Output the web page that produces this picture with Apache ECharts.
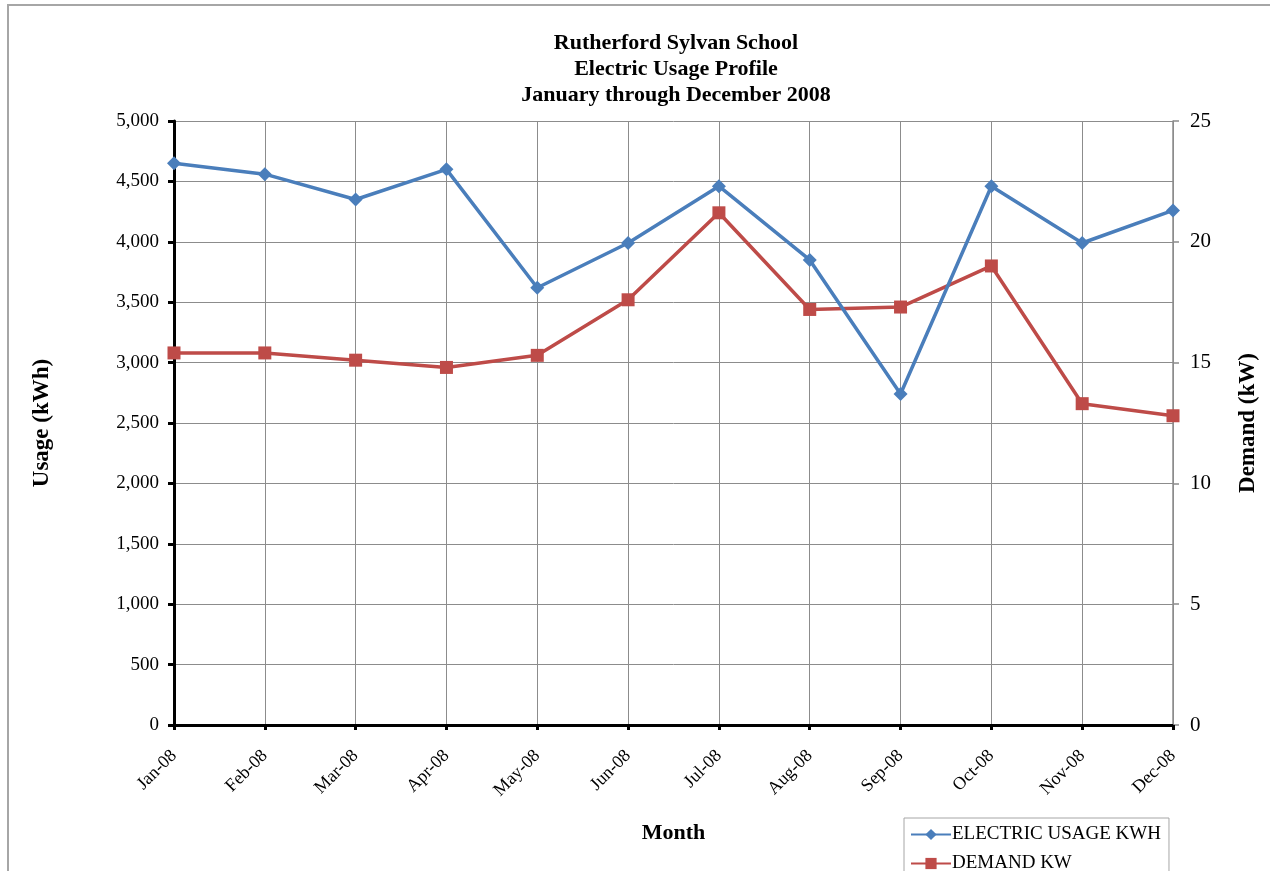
<!DOCTYPE html>
<html>
<head>
<meta charset="utf-8">
<script src="https://cdn.jsdelivr.net/npm/echarts@6/dist/echarts.min.js"></script>
<style>
  html, body { margin: 0; padding: 0; background: #fff; }
  .frame {
    position: absolute;
    left: 7px;
    top: 4px;
    width: 1300px;
    height: 900px;
    border-left: 2px solid #a6a6a6;
    border-top: 2px solid #a6a6a6;
  }
  #chart { position: absolute; left: 0; top: 0; width: 1270px; height: 871px; }
</style>
</head>
<body>
<div class="frame"></div>
<div id="chart"></div>
<script>
const months = ['Jan-08', 'Feb-08', 'Mar-08', 'Apr-08', 'May-08', 'Jun-08',
  'Jul-08', 'Aug-08', 'Sep-08', 'Oct-08', 'Nov-08', 'Dec-08']
const usageKwh = [4650, 4560, 4350, 4600, 3620, 3990, 4460, 3850, 2740, 4460, 3990, 4260]
const demandKw = [15.4, 15.4, 15.1, 14.8, 15.3, 17.6, 21.2, 17.2, 17.3, 19.0, 13.3, 12.8]

const serif = '"Liberation Serif", "DejaVu Serif", serif'
const gridColor = '#8c8c8c'

const chart = echarts.init(document.getElementById('chart'))

const option = {
  backgroundColor: 'transparent',
  animation: false,
  textStyle: { fontFamily: serif, color: '#000' },
  title: {
    text: 'Rutherford Sylvan School\nElectric Usage Profile\nJanuary through December 2008',
    left: 671,
    top: 25,
    textAlign: 'center',
    textStyle: {
      fontFamily: serif,
      fontSize: 22,
      fontWeight: 'bold',
      lineHeight: 26,
      color: '#000',
    },
  },
  grid: {
    left: 174,
    right: 97,
    top: 121,
    bottom: 146,
  },
  legend: {
    orient: 'horizontal',
    left: 904,
    top: 818,
    width: 250,
    padding: [7, 8, 6, 6],
    itemGap: 10,
    itemWidth: 40,
    itemHeight: 14,
    borderColor: '#a6a6a6',
    borderWidth: 1,
    backgroundColor: '#fff',
    textStyle: { fontFamily: serif, fontSize: 19, color: '#000', padding: [0, 0, 0, -4] },
    data: ['ELECTRIC USAGE KWH', 'DEMAND KW'],
  },
  xAxis: {
    type: 'category',
    data: months,
    boundaryGap: false,
    name: 'Month',
    nameLocation: 'middle',
    nameGap: 97,
    nameTextStyle: { fontFamily: serif, fontSize: 22, fontWeight: 'bold', color: '#000' },
    axisLine: { lineStyle: { color: '#000', width: 3 } },
    axisTick: { show: true, length: 5, lineStyle: { color: '#000', width: 3 } },
    axisLabel: {
      rotate: 45,
      margin: 28,
      fontFamily: serif,
      fontSize: 18,
      color: '#000',
      interval: 0,
    },
    splitLine: { show: true, lineStyle: { color: gridColor, width: 1 } },
  },
  yAxis: [
    {
      type: 'value',
      min: 0,
      max: 5000,
      interval: 500,
      name: 'Usage (kWh)',
      nameLocation: 'middle',
      nameRotate: 90,
      nameGap: 120,
      nameTextStyle: { fontFamily: serif, fontSize: 23, fontWeight: 'bold', color: '#000' },
      axisLine: { show: true, lineStyle: { color: '#000', width: 3 } },
      axisTick: { show: true, length: 6, lineStyle: { color: '#000', width: 3 } },
      axisLabel: {
        margin: 15,
        fontFamily: serif,
        fontSize: 19,
        color: '#000',
        formatter: v => v.toLocaleString('en-US'),
      },
      splitLine: { show: true, lineStyle: { color: gridColor, width: 1 } },
    },
    {
      type: 'value',
      min: 0,
      max: 25,
      interval: 5,
      name: 'Demand (kW)',
      nameLocation: 'middle',
      nameRotate: 90,
      nameGap: 64,
      nameTextStyle: { fontFamily: serif, fontSize: 23, fontWeight: 'bold', color: '#000' },
      axisLine: { show: true, lineStyle: { color: gridColor, width: 1.5 } },
      axisTick: { show: true, length: 6, lineStyle: { color: gridColor, width: 1.5 } },
      axisLabel: {
        margin: 17,
        fontFamily: serif,
        fontSize: 21,
        color: '#000',
      },
      splitLine: { show: false },
    },
  ],
  series: [
    {
      name: 'ELECTRIC USAGE KWH',
      type: 'line',
      data: usageKwh,
      yAxisIndex: 0,
      symbol: 'diamond',
      symbolSize: 14,
      color: '#4a7ebb',
      lineStyle: { width: 3.5, color: '#4a7ebb' },
      itemStyle: { color: '#4a7ebb' },
      z: 3,
    },
    {
      name: 'DEMAND KW',
      type: 'line',
      data: demandKw,
      yAxisIndex: 1,
      symbol: 'rect',
      symbolSize: 13,
      color: '#be4b48',
      lineStyle: { width: 3.5, color: '#be4b48' },
      itemStyle: { color: '#be4b48' },
      z: 2,
    },
  ],
}

chart.setOption(option)
</script>
</body>
</html>
